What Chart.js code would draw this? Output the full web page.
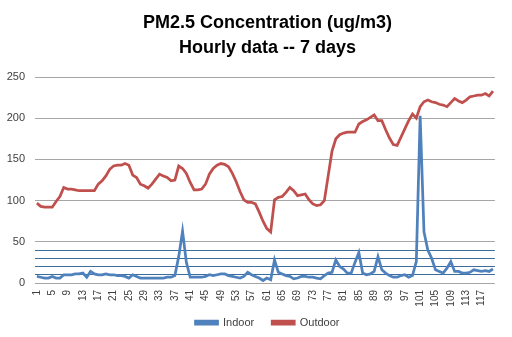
<!DOCTYPE html>
<html>
<head>
<meta charset="utf-8">
<script src="https://cdn.jsdelivr.net/npm/chart.js@4/dist/chart.umd.min.js"></script>
<style>
  html, body { margin: 0; padding: 0; background: #fff; }
  #wrap { width: 512px; height: 337px; }
</style>
</head>
<body>
<div id="wrap"><canvas id="c" width="512" height="337"></canvas></div>
<script>
// Hours 1..120
const hours = [];
for (let h = 1; h <= 120; h++) hours.push(String(h));

// Hourly PM2.5 readings (ug/m3)
const indoor = [
  8, 7, 6, 6, 8, 6, 6, 10, 10, 10,
  11, 11, 12, 7, 14, 11, 10, 10, 11, 10,
  10, 9, 9, 8, 6, 10, 8, 6, 6, 6,
  6, 6, 6, 6, 7, 7, 9, 32, 63, 25,
  7, 7, 7, 7, 8, 10, 9, 10, 11, 11,
  9, 8, 7, 6, 8, 13, 10, 8, 6, 3,
  6, 4, 28, 13, 11, 9, 8, 5, 6, 8,
  8, 7, 7, 6, 5, 9, 12, 13, 28, 20,
  17, 12, 12, 25, 37, 12, 10, 11, 14, 32,
  16, 12, 9, 7, 7, 9, 10, 7, 9, 26,
  203, 62, 40, 30, 16, 14, 12, 18, 26, 14,
  14, 12, 12, 13, 16, 15, 14, 15, 14, 17
];
const outdoor = [
  97, 93, 92, 92, 92, 99, 105, 116, 114, 114,
  113, 112, 112, 112, 112, 112, 120, 124, 130, 138,
  142, 143, 143, 145, 143, 131, 128, 120, 118, 115,
  120, 126, 132, 130, 128, 124, 125, 142, 139, 133,
  122, 113, 113, 114, 120, 132, 139, 143, 145, 144,
  141, 133, 123, 111, 101, 98, 98, 96, 86, 75,
  66, 62, 101, 104, 105, 110, 116, 112, 106, 107,
  108, 101, 96, 94, 95, 100, 130, 160, 175, 180,
  182, 183, 183, 183, 193, 196, 198, 201, 204, 197,
  197, 186, 176, 168, 167, 177, 187, 197, 205, 200,
  214, 220, 222, 220, 219, 217, 216, 214, 219, 224,
  221, 219, 222, 226, 227, 228, 228, 230, 227, 233
];

// Y axis: labelled levels and the thin reference levels below 50
const majorLevels = [0, 50, 100, 150, 200, 250];
const guideLevels = [10, 20, 30, 40];

const titleLines = ['PM2.5 Concentration (ug/m3)', 'Hourly data -- 7 days'];

const BLUE = '#4f81bd';
const RED = '#c0504d';
const FONT = "'Liberation Sans', Arial, sans-serif";

// Centre the title and legend over the plot rather than the whole canvas,
// and pull the legend up to sit close under the hour labels.
const boxShift = {
  id: 'boxShift',
  afterLayout(chart) {
    const t = chart.titleBlock;
    if (t) { t.left += 16; t.right += 16; }
    const l = chart.legend;
    if (l) { l.left += 16; l.right += 16; l.top -= 11; l.bottom -= 11; }
  }
};

new Chart(document.getElementById('c'), {
  type: 'line',
  data: {
    labels: hours,
    datasets: [
      { label: 'Indoor', data: indoor, borderColor: BLUE, backgroundColor: BLUE,
        borderWidth: 2.75, pointRadius: 0, tension: 0 },
      { label: 'Outdoor', data: outdoor, borderColor: RED, backgroundColor: RED,
        borderWidth: 2.75, pointRadius: 0, tension: 0 }
    ]
  },
  plugins: [boxShift],
  options: {
    responsive: false,
    animation: false,
    layout: { padding: { left: 0, right: 9, top: 0, bottom: 0 } },
    plugins: {
      title: {
        display: true,
        text: titleLines,
        color: '#000',
        font: { family: FONT, size: 18, weight: 'bold', lineHeight: 1.39 },
        padding: { top: 11, bottom: 16 }
      },
      legend: {
        position: 'bottom',
        maxHeight: 27,
        labels: {
          color: '#404040',
          font: { family: FONT, size: 11 },
          boxWidth: 22,
          boxHeight: 3,
          padding: 18
        }
      },
      tooltip: { enabled: false }
    },
    scales: {
      x: {
        offset: true,
        grid: { display: false, drawTicks: false },
        border: { display: false },
        ticks: {
          autoSkip: false,
          maxRotation: 90,
          minRotation: 90,
          padding: 7,
          color: '#404040',
          font: { family: FONT, size: 10 },
          callback: function (v, i) { return i % 4 === 0 ? hours[i] : ''; }
        },
        afterFit: function (s) { s.height = 27; }
      },
      y: {
        min: 0,
        max: 250,
        border: { display: false },
        afterBuildTicks: function (s) {
          s.ticks = majorLevels.concat(guideLevels).sort(function (a, b) { return a - b; })
            .map(function (v) { return { value: v }; });
        },
        grid: {
          drawTicks: false,
          lineWidth: 1,
          color: function (ctx) {
            return guideLevels.indexOf(ctx.tick.value) >= 0 ? '#3d6d9c' : '#a6a6a6';
          }
        },
        ticks: {
          padding: 10,
          color: '#404040',
          font: { family: FONT, size: 11 },
          callback: function (v) { return majorLevels.indexOf(v) >= 0 ? String(v) : ''; }
        },
        afterFit: function (s) { s.width = 35; }
      }
    }
  }
});
</script>
</body>
</html>
